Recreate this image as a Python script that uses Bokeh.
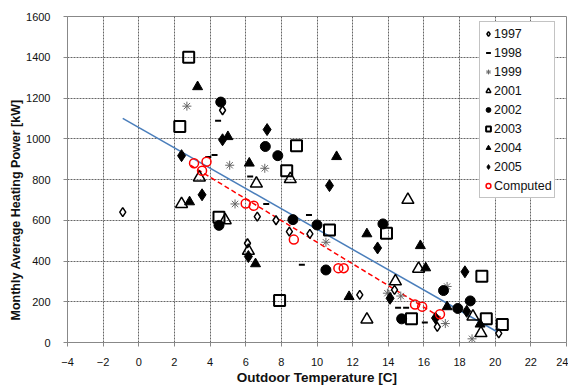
from bokeh.plotting import figure
from bokeh.models import Range1d, FixedTicker, Legend, LegendItem, Title
from bokeh.embed import file_html
from bokeh.resources import INLINE

# ---- data ----
t1997 = [4.7, -0.9, 6.65, 6.1, 7.7, 8.45, 9.6, 14.35, 12.4, 16.75, 20.2]
p1997 = [1140, 640, 618, 487, 600, 544, 533, 258, 234, 77, 45]

t1998 = [4.45, 3.9, 4.25, 6.25, 7.15, 9.55, 9.15, 14.55, 15.0, 16.05]
p1998 = [1088, 910, 920, 815, 680, 626, 381, 170, 170, 98]

t1999 = [2.7, 5.1, 7.07, 5.4, 10.5, 13.95, 14.7, 17.3, 17.2, 18.7]
p1999 = [1160, 870, 855, 680, 492, 242, 228, 275, 93, 18]

t2001 = [3.4, 2.4, 4.85, 6.6, 8.5, 15.1, 15.7, 14.4, 12.8, 6.15, 18.75, 19.2]
p2001 = [810, 680, 600, 780, 802, 700, 362, 300, 113, 450, 127, 46]

t2002 = [4.6, 7.1, 7.8, 4.5, 8.65, 10.0, 13.7, 10.5, 14.75, 17.1, 18.6, 17.9]
p2002 = [1180, 962, 917, 575, 603, 577, 582, 356, 116, 255, 204, 167]

t2003 = [2.8, 2.3, 8.85, 8.3, 4.5, 10.7, 13.9, 7.9, 15.3, 19.25, 19.5, 20.4]
p2003 = [1400, 1060, 966, 843, 615, 552, 536, 206, 116, 325, 116, 88]

t2004 = [3.3, 5.0, 6.2, 11.1, 2.85, 6.55, 12.8, 15.8, 16.1, 11.8, 17.3, 19.15]
p2004 = [1255, 1010, 880, 912, 690, 386, 533, 475, 366, 225, 175, 90]

t2005 = [2.4, 4.7, 3.55, 7.2, 10.7, 6.15, 13.4, 14.1, 16.65, 18.3, 18.4]
p2005 = [917, 995, 725, 1045, 770, 422, 464, 217, 120, 347, 153]

tcomp = [3.1, 3.8, 3.55, 6.0, 6.45, 8.7, 11.2, 11.5, 15.5, 15.9, 16.9]
pcomp = [880, 887, 843, 682, 671, 505, 365, 365, 186, 176, 139]

fit_t = [-0.9, 20.3]
fit_p = [1100, 43]
comp_line_t = [2.9, 17.0]
comp_line_p = [870, 120]

x_ticks = list(range(-4, 25, 2))
y_ticks = list(range(0, 1601, 200))

FONT = "Liberation Sans"

p = figure(width=568, height=388, output_backend="svg", toolbar_location=None,
           x_range=Range1d(-4, 24), y_range=Range1d(0, 1600),
           min_border_left=67, min_border_right=2, min_border_top=16, min_border_bottom=46)

p.outline_line_color = "#888888"
p.outline_line_width = 1

for ax in (p.xaxis, p.yaxis):
    ax.axis_line_color = "#888888"
    ax.major_tick_line_color = "#888888"
    ax.major_tick_out = 4
    ax.major_tick_in = 0
    ax.minor_tick_line_color = None
    ax.major_label_text_font = FONT
    ax.major_label_text_font_size = "11px"
    ax.major_label_text_color = "#111111"
    ax.axis_label_text_font = FONT
    ax.axis_label_text_font_style = "bold"
    ax.axis_label_text_color = "#111111"

p.xaxis.axis_label_text_font_size = "13.5px"
p.xaxis.ticker = FixedTicker(ticks=x_ticks)
p.yaxis.ticker = FixedTicker(ticks=y_ticks)
p.xaxis.axis_label = "Outdoor Temperature [C]"
p.xaxis.major_label_standoff = 11
p.yaxis.major_label_standoff = 13
p.xaxis.axis_label_standoff = 1

# y-axis title as a side title (sits slightly below the frame centre, as in the reference)
ytitle = Title(text="Monthly Average Heating Power [kW]", align="left", offset=22,
               text_font=FONT, text_font_style="bold", text_font_size="12.5px",
               text_color="#111111", standoff=1)
p.add_layout(ytitle, "left")

for g in (p.xgrid, p.ygrid):
    g.grid_line_color = "#666666"
    g.grid_line_dash = "2 1"
    g.grid_line_width = 1
p.xgrid.ticker = FixedTicker(ticks=x_ticks)
p.ygrid.ticker = FixedTicker(ticks=y_ticks)

# fit lines
p.line(fit_t, fit_p, line_color="#4a7ebb", line_width=1.5)
p.line(comp_line_t, comp_line_p, line_color="#ff0000", line_width=1.5, line_dash="5 3")

r97 = p.scatter(t1997, p1997, marker="diamond", size=9, fill_color="white",
                line_color="black", line_width=1.5)
r98 = p.scatter(t1998, p1998, marker="dash", size=6, line_color="black", line_width=2)
r99 = p.scatter(t1999, p1999, marker="asterisk", size=9, line_color="#666666", line_width=1)
r01 = p.scatter(t2001, p2001, marker="triangle", size=12, fill_color=None,
                line_color="black", line_width=1.5)
r02 = p.scatter(t2002, p2002, marker="circle", size=10, fill_color="black", line_color="black")
r03 = p.scatter(t2003, p2003, marker="square", size=11, fill_color=None,
                line_color="black", line_width=2)
r04 = p.scatter(t2004, p2004, marker="triangle", size=10, fill_color="black", line_color="black")
r05 = p.scatter(t2005, p2005, marker="diamond", size=12, fill_color="black", line_color="black")
rc = p.scatter(tcomp, pcomp, marker="circle", size=9, fill_color=None,
               line_color="#ff0000", line_width=1.5)

legend = Legend(items=[
    LegendItem(label="1997", renderers=[r97]),
    LegendItem(label="1998", renderers=[r98]),
    LegendItem(label="1999", renderers=[r99]),
    LegendItem(label="2001", renderers=[r01]),
    LegendItem(label="2002", renderers=[r02]),
    LegendItem(label="2003", renderers=[r03]),
    LegendItem(label="2004", renderers=[r04]),
    LegendItem(label="2005", renderers=[r05]),
    LegendItem(label="Computed", renderers=[rc]),
], location=(412, 144))
legend.label_text_font = FONT
legend.label_text_font_size = "12.5px"
legend.label_text_color = "#111111"
legend.glyph_width = 12
legend.glyph_height = 19
legend.label_height = 19
legend.label_standoff = 0
legend.spacing = 0
legend.padding = 2
legend.margin = 0
legend.border_line_color = "#888888"
legend.border_line_width = 1
legend.background_fill_color = "white"
legend.background_fill_alpha = 1
p.add_layout(legend, "center")

open("out.html", "w").write(file_html(p, INLINE))
